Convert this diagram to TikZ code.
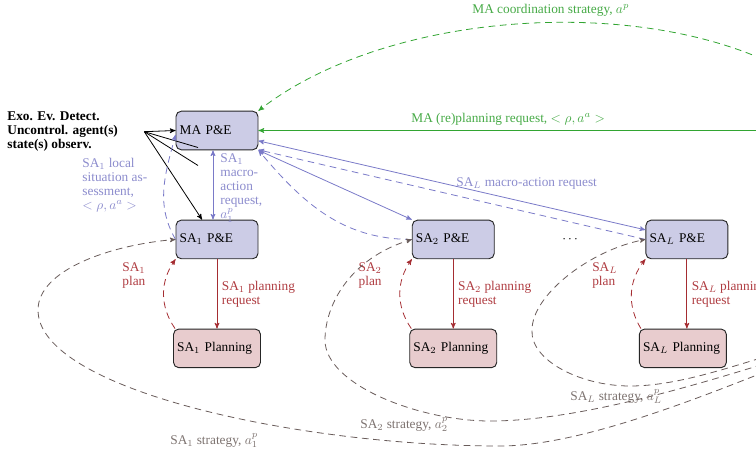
\documentclass[tikz,border=0pt]{standalone}
\usepackage{fontspec}
\setmainfont{Liberation Serif}
\usepackage{tikz}
\usetikzlibrary{positioning,shapes,arrows,calc}

\definecolor{pefill}{RGB}{204,204,230}
\definecolor{plfill}{RGB}{232,204,206}
\definecolor{lavline}{RGB}{122,122,200}
\definecolor{lavtext}{RGB}{140,140,205}
\definecolor{redline}{RGB}{165,45,50}
\definecolor{redtext}{RGB}{175,60,65}
\definecolor{grnline}{RGB}{50,165,50}
\definecolor{grntext}{RGB}{70,170,70}
\definecolor{stratline}{RGB}{105,92,90}
\definecolor{strattext}{RGB}{125,115,112}

\tikzset{
  pe/.style={draw=black!85, rounded corners=4pt, fill=pefill, line width=0.7pt, minimum height=29pt, text width=56pt, inner xsep=2.75pt, align=left},
  pl/.style={draw=black!85, rounded corners=4pt, fill=plfill, line width=0.7pt, minimum height=29pt, text width=59.75pt, inner xsep=2.75pt, align=left},
  lbl/.style={inner sep=0pt, align=left, font=\fontsize{10}{10.5}\selectfont},
  dsh/.style={dash pattern=on 5pt off 3.5pt},
}

\begin{document}
\begin{tikzpicture}[x=0.75pt, y=-0.75pt, node distance=52pt and 115pt, >=stealth', line width=0.6pt]
    \useasboundingbox (0,0) rectangle (756,449);
    \clip (0,0) rectangle (756,449);

    % agents
    \node[pe](ma) at (217,130.5){MA P\&E};
    \node[pe, below=of ma](sa1pe){SA$_1$ P\&E};
    \node[pl, below=of sa1pe](sa1pl){SA$_1$ Planning};
    \node[pe, right=of sa1pe](sa2pe){SA$_2$ P\&E};
    \node[pl, below=of sa2pe](sa2pl){SA$_2$ Planning};
    \node[pe, right=of sa2pe, xshift=-2pt](salpe){SA$_L$ P\&E};
    \node[pl, below=of salpe, xshift=-3pt](salpl){SA$_L$ Planning};
    \node(dots) at ($(sa2pe.east)!0.5!(salpe.west)$){$\cdots$};

    % exogenous observations
    \node[lbl, font=\fontsize{10}{10.5}\selectfont\bfseries, anchor=north west](exo) at (7,111.5){Exo. Ev. Detect.\\Uncontrol. agent(s)\\state(s) observ.};
    \coordinate(obs) at ([xshift=19.5pt]exo.east);
    \coordinate(obs-a) at ([shift={(-19,17)}]ma.center);
    \coordinate(obs-b) at ([shift={(-19,35)}]ma.center);
    \draw[->](obs)--(ma.west);
    \draw(obs)--(obs-a);
    \draw(obs)--(obs-b);
    \draw[->](obs)--(sa1pe.127);

    % MA <-> SA
    \draw[lavline, <->]([xshift=-3pt]ma.south)--([xshift=-3pt]sa1pe.north);
    \node[lbl, text=lavtext, anchor=north west] at ([shift={(3,3)}]ma.south){SA$_1$\\macro-\\action\\request,\\$a_1^p$};
    \draw[lavline, dsh, ->](sa1pe.west) to[out=120, in=-105] (ma.186);
    \node[lbl, text=lavtext, anchor=north west] at (82,157.5){SA$_1$ local\\situation as-\\sessment,\\$<\rho, a^a>$};
    \draw[lavline, <->](ma.south east)--(sa2pe.north west);
    \draw[lavline, dsh, ->](sa2pe.west) to[out=180, in=-50] (ma.south east);
    \draw[lavline, <->](ma.-14)--(salpe.167);
    \draw[lavline, dsh, ->](salpe.west)--(ma.-25);
    \node[lbl, text=lavtext, anchor=base west] at (456,186.5){SA$_L$ macro-action request};

    % MA planning (off to the right)
    \coordinate(ma-req) at (820,130.5);
    \coordinate(ma-coord) at (830,100);
    \draw[grnline, ->](ma-req)--(ma.east);
    \node[lbl, text=grntext, anchor=base west] at (411,122.5){MA (re)planning request, $<\rho, a^a>$};
    \draw[grnline, dsh, ->](ma-coord) .. controls (700,-10) and (400,0) .. (ma.north east);
    \node[lbl, text=grntext, anchor=base west] at (472,13.5){MA coordination strategy, $a^p$};

    % SA planning
    \draw[redline, ->](sa1pe)--(sa1pe|-sa1pl.north);
    \node[lbl, text=redtext, anchor=north west] at ([shift={(4.5,22)}]sa1pe.south){SA$_1$ planning\\request};
    \draw[redline, dsh, ->]([xshift=1.5pt]sa1pl.north west) to[bend left=35] (sa1pe.south west);
    \node[lbl, text=redtext, anchor=north west] at ([shift={(-53.5,3.5)}]sa1pe.south west){SA$_1$\\plan};

    \draw[redline, ->](sa2pe)--(sa2pe|-sa2pl.north);
    \node[lbl, text=redtext, anchor=north west] at ([shift={(4.5,22)}]sa2pe.south){SA$_2$ planning\\request};
    \draw[redline, dsh, ->]([xshift=1.5pt]sa2pl.north west) to[bend left=35] (sa2pe.south west);
    \node[lbl, text=redtext, anchor=north west] at ([shift={(-53.5,3.5)}]sa2pe.south west){SA$_2$\\plan};

    \draw[redline, ->](salpe)--(salpe|-salpl.north);
    \node[lbl, text=redtext, anchor=north west] at ([shift={(4.5,22)}]salpe.south){SA$_L$ planning\\request};
    \draw[redline, dsh, ->]([xshift=1.5pt]salpl.north west) to[bend left=35] (salpe.south west);
    \node[lbl, text=redtext, anchor=north west] at ([shift={(-53.5,3.5)}]salpe.south west){SA$_L$\\plan};

    % SA strategies
    \coordinate(strat) at (870,330);
    \draw[stratline, dsh, ->](strat) .. controls (760,372) and (600,446) .. (500,446)
        .. controls (300,446) and (38,390) .. (38,310)
        .. controls (38,270) and (110,245) .. (sa1pe.west);
    \node[lbl, text=strattext, anchor=base west] at (170,444){SA$_1$ strategy, $a_1^p$};
    \draw[stratline, dsh, ->](strat) .. controls (760,365) and (600,421) .. (490,421)
        .. controls (420,421) and (325,385) .. (325,340)
        .. controls (325,305) and (350,258) .. (sa2pe.west);
    \node[lbl, text=strattext, anchor=base west] at (360,428){SA$_2$ strategy, $a_2^p$};
    \draw[stratline, dsh, ->](strat) .. controls (780,345) and (700,386) .. (630,386)
        .. controls (580,386) and (530,360) .. (532,330)
        .. controls (532,295) and (590,250) .. (salpe.west);
    \node[lbl, text=strattext, anchor=base west] at (570,400){SA$_L$ strategy, $a_L^p$};
\end{tikzpicture}
\end{document}
